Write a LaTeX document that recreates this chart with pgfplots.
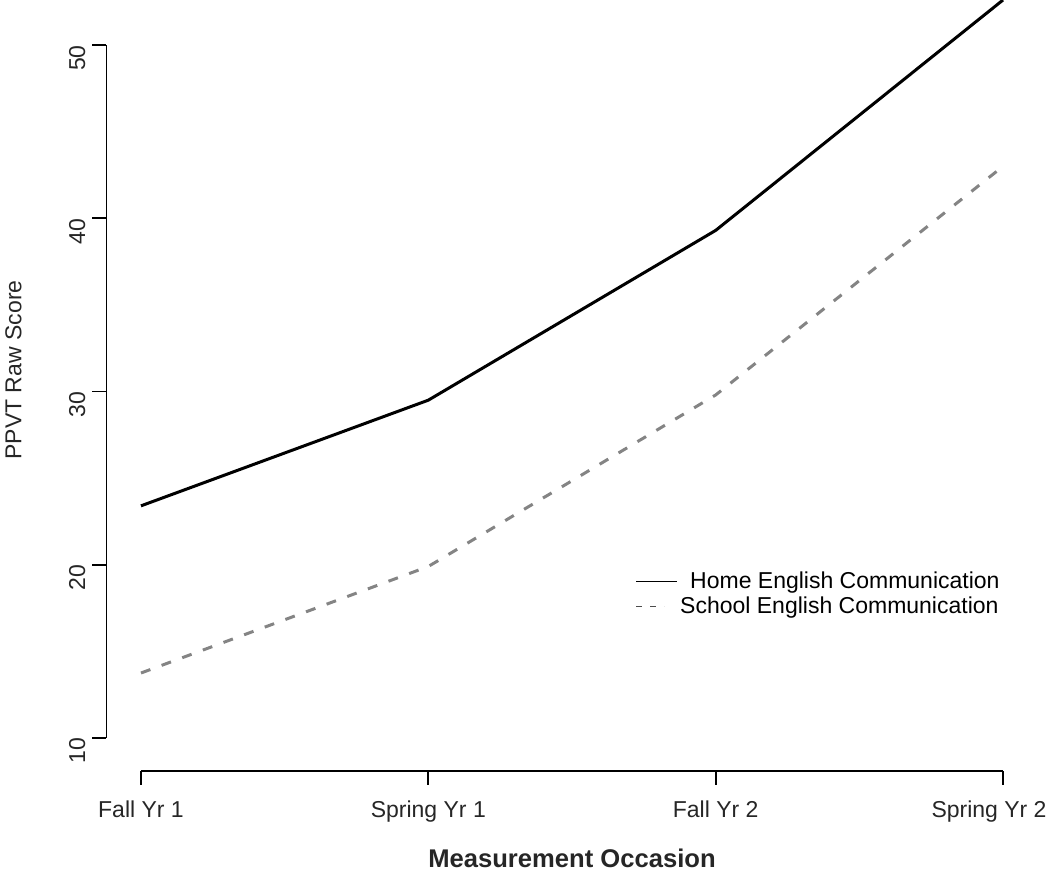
\documentclass[border=0pt]{standalone}
\usepackage{fontspec}
\setmainfont{Liberation Sans}
\usepackage{pgfplots}
\pgfplotsset{compat=1.18}
\definecolor{dashgray}{RGB}{132,132,132}
\begin{document}
\begin{tikzpicture}
\begin{axis}[
  scale only axis,
  width=465.5pt, height=385.5pt,
  xmin=-0.12, xmax=3.12,
  ymin=8.095, ymax=52.6,
  clip=false,
  axis lines*=left,
  axis line style={draw=none},
  xtick={0,1,2,3},
  xticklabels={Fall Yr 1,Spring Yr 1,Fall Yr 2,\hspace*{-14pt}Spring Yr 2},
  ytick={10,20,30,40,50},
  tick align=outside,
  major tick length=7pt,
  tick style={black, line width=0.9pt},
  /pgf/number format/assume math mode=true,
  ticklabel style={font=\fontsize{11.5}{13}\selectfont, text=black!85},
  xticklabel style={yshift=-4.5pt},
  yticklabel style={rotate=90, anchor=south, xshift=-6.5pt},
  legend style={draw=none, fill=none, at={(264.25pt,88.5pt)}, anchor=west,
     font=\fontsize{11.5}{13}\selectfont, row sep=0pt, inner sep=0pt,
     nodes={inner sep=1.2pt}},
  legend cell align=left,
]
\draw[line width=0.9pt] (axis cs:0,8.095) -- (axis cs:3,8.095);
\draw[line width=0.9pt] (axis cs:-0.12,10) -- (axis cs:-0.12,50);
\addplot[black, line width=1.5pt,
  legend image code/.code={\draw[black, line width=0.7pt] (0pt,0pt) -- (20.5pt,0pt);}]
  coordinates {(0,23.4) (1,29.5) (2,39.3) (3,52.6)};
\addlegendentry{\hspace*{5pt}Home English Communication}
\addplot[dashgray, line width=1.5pt, dash pattern=on 5pt off 6pt,
  legend image code/.code={\draw[black!70, line width=0.7pt, dash pattern=on 3pt off 4pt] (0pt,0pt) -- (14pt,0pt);}]
  coordinates {(0,13.75) (1,19.9) (2,29.8) (3,43.0)};
\addlegendentry{School English Communication}
\end{axis}
\node[font=\bfseries\fontsize{12.8}{15}\selectfont, text=black!85] at (232.75pt,-43.5pt) {Measurement Occasion};
\node[font=\fontsize{11.5}{13}\selectfont, text=black!85, rotate=90] at (-46.5pt,200.5pt) {PPVT Raw Score};
\pgfresetboundingbox
\useasboundingbox (-53.25pt,-50pt) rectangle (471.75pt,385.5pt);
\end{tikzpicture}
\end{document}
